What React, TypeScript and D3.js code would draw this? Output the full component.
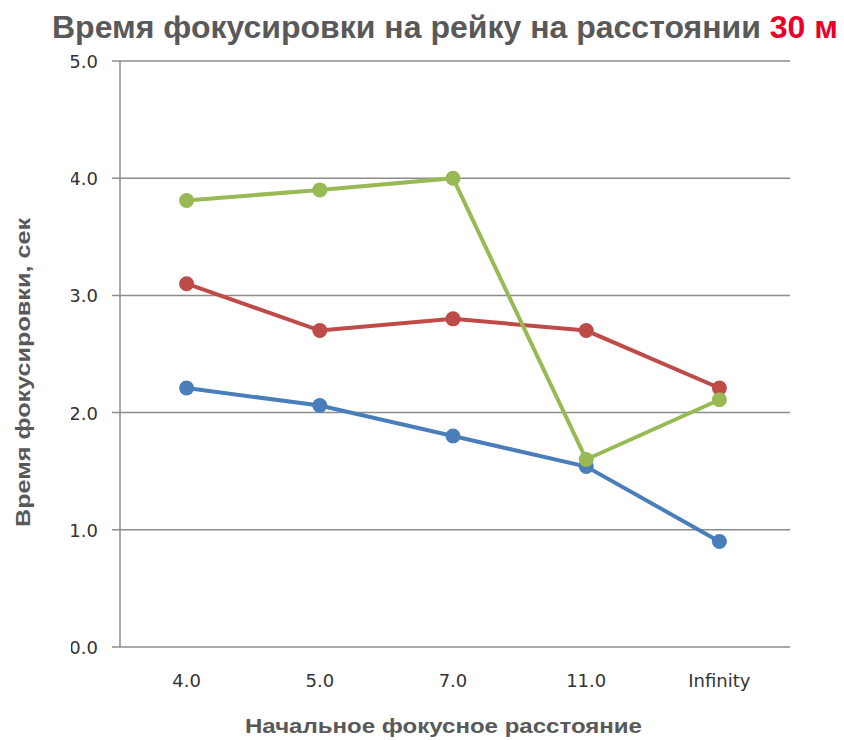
import React from "react";
import * as d3 from "d3";

const categories = ["4.0", "5.0", "7.0", "11.0", "Infinity"];
const blueValues = [2.21, 2.06, 1.8, 1.54, 0.9];
const redValues = [3.1, 2.7, 2.8, 2.7, 2.21];
const greenValues = [3.81, 3.9, 4.0, 1.6, 2.11];
const yTicks = [0, 1, 2, 3, 4, 5];

const series = [
  { name: "blue", values: blueValues, color: "#4a7ebb" },
  { name: "red", values: redValues, color: "#be4b48" },
  { name: "green", values: greenValues, color: "#98b954" },
];

export default function App() {
  const W = 844, H = 740;
  const left = 120, right = 786, top = 61, bottom = 647;
  const x = d3.scaleBand<string>().domain(categories).range([left, right]);
  const y = d3.scaleLinear().domain([0, 5]).range([bottom, top]);
  const cx = (c: string) => (x(c) as number) + x.bandwidth() / 2;
  const line = d3
    .line<number>()
    .x((_, i) => cx(categories[i]))
    .y((d) => y(d));
  return (
    <svg
      width={W}
      height={H}
      style={{ position: "absolute", left: 0, top: 0, background: "#fff" }}
    >
      <defs>
        <clipPath id="lblclip">
          <rect x={71} y={0} width={100} height={H} />
        </clipPath>
      </defs>
      <text
        x={52}
        y={38}
        textLength={786}
        lengthAdjust="spacingAndGlyphs"
        fontFamily="Liberation Sans, Arial, sans-serif"
        fontWeight="bold"
        fontSize={31}
        fill="#595959"
      >
        Время фокусировки на рейку на расстоянии{" "}
        <tspan fill="#e8002a">30 м</tspan>
      </text>
      {yTicks.map((t) => (
        <g key={t}>
          <line x1={112} x2={790} y1={y(t)} y2={y(t)} stroke="#8c8c8c" strokeWidth={1.5} />
          <text
            x={98}
            y={y(t) + 7}
            textAnchor="end"
            fontFamily="DejaVu Sans, Verdana, sans-serif"
            fontSize={18}
            fill="#333"
            clipPath="url(#lblclip)"
          >
            {t.toFixed(1)}
          </text>
        </g>
      ))}
      <line x1={left} x2={left} y1={top} y2={bottom} stroke="#8c8c8c" strokeWidth={1.5} />
      {categories.map((c) => (
        <text
          key={c}
          x={cx(c)}
          y={687}
          textAnchor="middle"
          fontFamily="DejaVu Sans, Verdana, sans-serif"
          fontSize={18}
          fill="#333"
        >
          {c}
        </text>
      ))}
      {series.map((s) => (
        <g key={s.name}>
          <path d={line(s.values) || ""} fill="none" stroke={s.color} strokeWidth={4} />
          {s.values.map((v, i) => (
            <circle key={i} cx={cx(categories[i])} cy={y(v)} r={7.5} fill={s.color} />
          ))}
        </g>
      ))}
      <text
        x={245}
        y={733}
        textLength={397}
        lengthAdjust="spacingAndGlyphs"
        fontFamily="Liberation Sans, Arial, sans-serif"
        fontWeight="bold"
        fontSize={21}
        fill="#595959"
      >
        Начальное фокусное расстояние
      </text>
      <text
        transform={`translate(30,527) rotate(-90)`}
        textLength={309}
        lengthAdjust="spacingAndGlyphs"
        fontFamily="Liberation Sans, Arial, sans-serif"
        fontWeight="bold"
        fontSize={21}
        fill="#595959"
      >
        Время фокусировки, сек
      </text>
    </svg>
  );
}
